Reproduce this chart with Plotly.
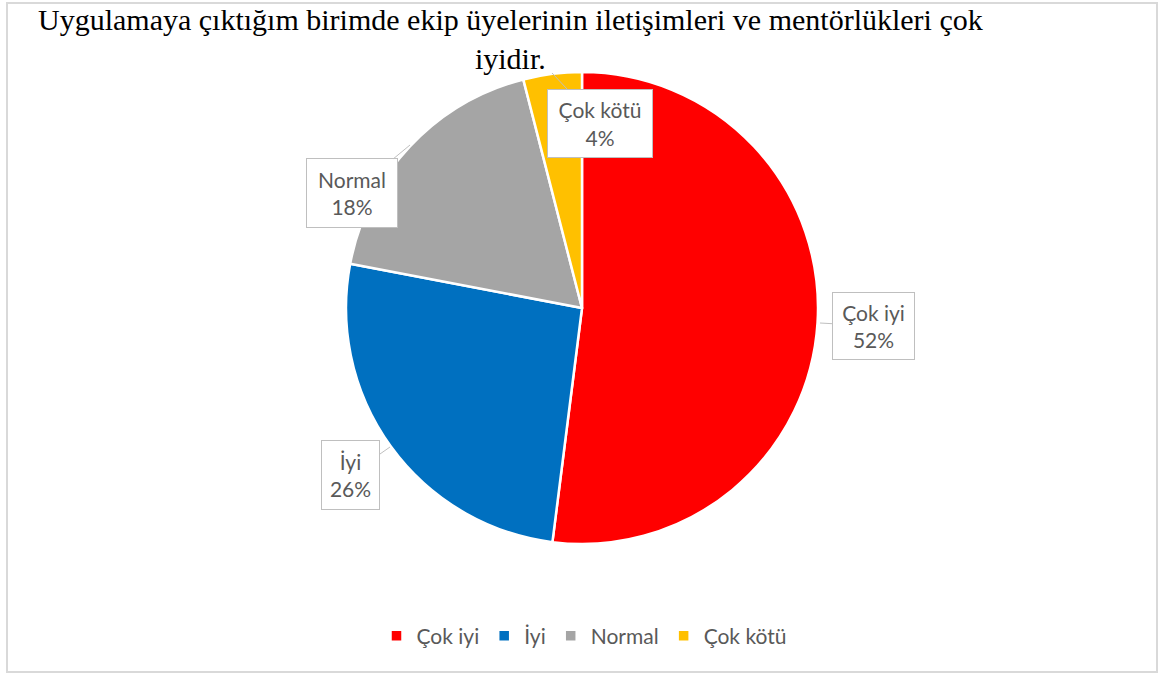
import plotly.graph_objects as go

W, H = 1159, 675

labels = ["Çok iyi", "İyi", "Normal", "Çok kötü"]
values = [52, 26, 18, 4]
colors = ["#FF0000", "#0070C0", "#A5A5A5", "#FFC000"]
title_text = "Uygulamaya çıktığım birimde ekip üyelerinin iletişimleri ve mentörlükleri çok<br>iyidir."

def px(x):
    return x / W

def py(y):
    return 1 - y / H

fig = go.Figure()
fig.add_trace(go.Pie(
    labels=labels,
    values=values,
    sort=False,
    direction="clockwise",
    rotation=0,
    marker=dict(colors=colors, line=dict(color="white", width=2.5)),
    textinfo="none",
    hoverinfo="label+percent",
    domain=dict(x=[px(346), px(818)], y=[py(544), py(72)]),
))

# callout label boxes: (tip x, tip y, box center dx, dy, box w, box h)
callouts = [
    (820, 323, 53, 3, 79, 64),
    (390, 447, -40, 28, 55, 66),
    (410, 145, -58, 48, 88, 66),
    (552, 73, 48, 51, 102, 65),
]
total = sum(values)
annotations = []
for lab, val, (tx, ty, dx, dy, bw, bh) in zip(labels, values, callouts):
    annotations.append(dict(
        x=px(tx), y=py(ty), xref="paper", yref="paper",
        text=f"{lab}<br>{round(100 * val / total)}%",
        showarrow=True, arrowhead=0, arrowwidth=1, arrowcolor="#bfbfbf",
        ax=dx, ay=dy, standoff=0,
        width=bw, height=bh, borderpad=1,
        bgcolor="white", bordercolor="#bfbfbf", borderwidth=1,
        font=dict(family="Lato", size=21, color="#595959"),
    ))

annotations.append(dict(
    x=px(510), y=py(1), xref="paper", yref="paper",
    xanchor="center", yanchor="top", showarrow=False,
    text=title_text,
    font=dict(family="Liberation Serif", size=30, color="black"),
))

fig.update_layout(
    width=W, height=H,
    margin=dict(l=0, r=0, t=0, b=0),
    paper_bgcolor="white",
    annotations=annotations,
    showlegend=True,
    legend=dict(
        orientation="h", x=px(584), xanchor="center", y=py(636), yanchor="middle",
        font=dict(family="Lato", size=21, color="#595959"),
        itemwidth=30,
    ),
    shapes=[dict(
        type="rect", xref="paper", yref="paper",
        x0=px(7), x1=px(1157), y0=py(672), y1=py(3),
        line=dict(color="#d9d9d9", width=2),
    )],
)

fig.write_html("out.html", config={"displayModeBar": False},
               post_script="document.body.style.margin='0';")
